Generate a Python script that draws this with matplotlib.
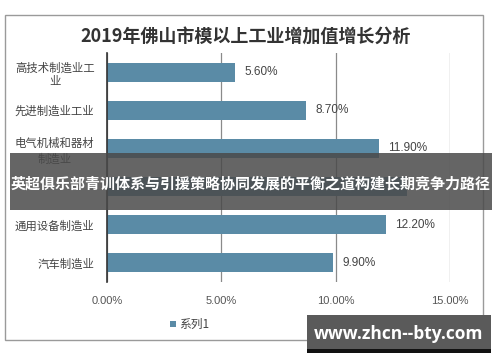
import matplotlib
matplotlib.use("Agg")
import matplotlib.pyplot as plt
from matplotlib.patches import Rectangle

plt.rcParams['font.family'] = ['Noto Sans CJK SC', 'DejaVu Sans']

categories = ["高技术制造业工\n业", "先进制造业工业", "电气机械和器材\n制造业", "电子信息制造业", "通用设备制造业", "汽车制造业"]
values = [5.6, 8.7, 11.9, 13.1, 12.2, 9.9]
hidden_index = 3  # category covered by the banner in the reference
xticks = [0, 5, 10, 15]
xtick_labels = ["0.00%", "5.00%", "10.00%", "15.00%"]
title = "2019年佛山市模以上工业增加值增长分析"
legend_label = "系列1"
banner = "英超俱乐部青训体系与引援策略协同发展的平衡之道构建长期竞争力路径"
watermark = "www.zhcn--bty.com"

W, H = 500, 362
fig = plt.figure(figsize=(W/100, H/100), dpi=100)
fig.patch.set_facecolor("white")

def fx(x): return x / W
def fy(y): return 1 - y / H

# outer frame
fig.patches.append(Rectangle((fx(5), fy(340)), fx(483) - fx(5), fy(15) - fy(340),
                             transform=fig.transFigure, fill=False, edgecolor="#9a9a9a", lw=1.0, zorder=0))

ax = fig.add_axes([fx(107), fy(282), fx(450) - fx(107), fy(53) - fy(282)])
bar_color = "#5a8ba6"
y = list(range(len(categories)))
ax.barh(y, values, height=0.5, color=bar_color, zorder=3)
ax.set_ylim(len(categories) - 0.5, -0.5)
ax.set_xlim(0, 15)
ax.set_xticks(xticks)
ax.set_xticklabels(xtick_labels, fontsize=8, color="#555555", family=['Liberation Sans', 'DejaVu Sans'])
ax.set_yticks(y)
labels = ax.set_yticklabels(categories, fontsize=8.2, color="#444444", multialignment='center',
                            linespacing=1.45)
labels[hidden_index].set_visible(False)
ax.tick_params(axis='y', length=0, pad=9)
ax.tick_params(axis='x', length=0, pad=10)
ax.grid(axis='x', color="#8a8a8a", lw=0.9, zorder=0)
for s in ["top", "right", "bottom"]:
    ax.spines[s].set_visible(False)
ax.spines["left"].set_color("#333333")
ax.spines["left"].set_linewidth(1.2)
ax.spines["left"].set_zorder(4)

for i, (yi, v) in enumerate(zip(y, values)):
    if i == hidden_index:
        continue
    ax.text(v + 0.4, yi, f"{v:.2f}%", va='center', ha='left', fontsize=8.5,
            color="#444444", family=['Liberation Sans', 'DejaVu Sans'])

fig.text(fx(246), fy(37), title, ha='center', va='center', fontsize=13,
         fontweight='bold', color="#333333")

# legend
fig.patches.append(Rectangle((fx(170), fy(327)), fx(176) - fx(170), fy(321) - fy(327),
                             transform=fig.transFigure, facecolor=bar_color, edgecolor='none'))
fig.text(fx(179), fy(324), legend_label, ha='left', va='center', fontsize=8.5, color="#444444")

# banner overlay
fig.patches.append(Rectangle((fx(10), fy(210)), fx(492) - fx(10), fy(153) - fy(210),
                             transform=fig.transFigure, facecolor="#4a4a4a", alpha=0.85,
                             edgecolor='none', zorder=10))
fig.text(fx(251), fy(184), banner, ha='center', va='center', fontsize=10.8,
         fontweight='bold', color="white", zorder=11)

# watermark
fig.patches.append(Rectangle((fx(307), fy(353)), fx(491) - fx(307), fy(315) - fy(353),
                             transform=fig.transFigure, facecolor="#5a5a5a",
                             edgecolor='none', zorder=10))
fig.patches.append(Rectangle((fx(307), fy(353)), fx(491) - fx(307), fy(349) - fy(353),
                             transform=fig.transFigure, facecolor="#111111",
                             edgecolor='none', zorder=10))
fig.text(fx(399), fy(334), watermark, ha='center', va='center', fontsize=12.5,
         fontweight='bold', color="white", zorder=11, family=['Open Sans', 'DejaVu Sans'])

fig.savefig("out.png", dpi=100)
